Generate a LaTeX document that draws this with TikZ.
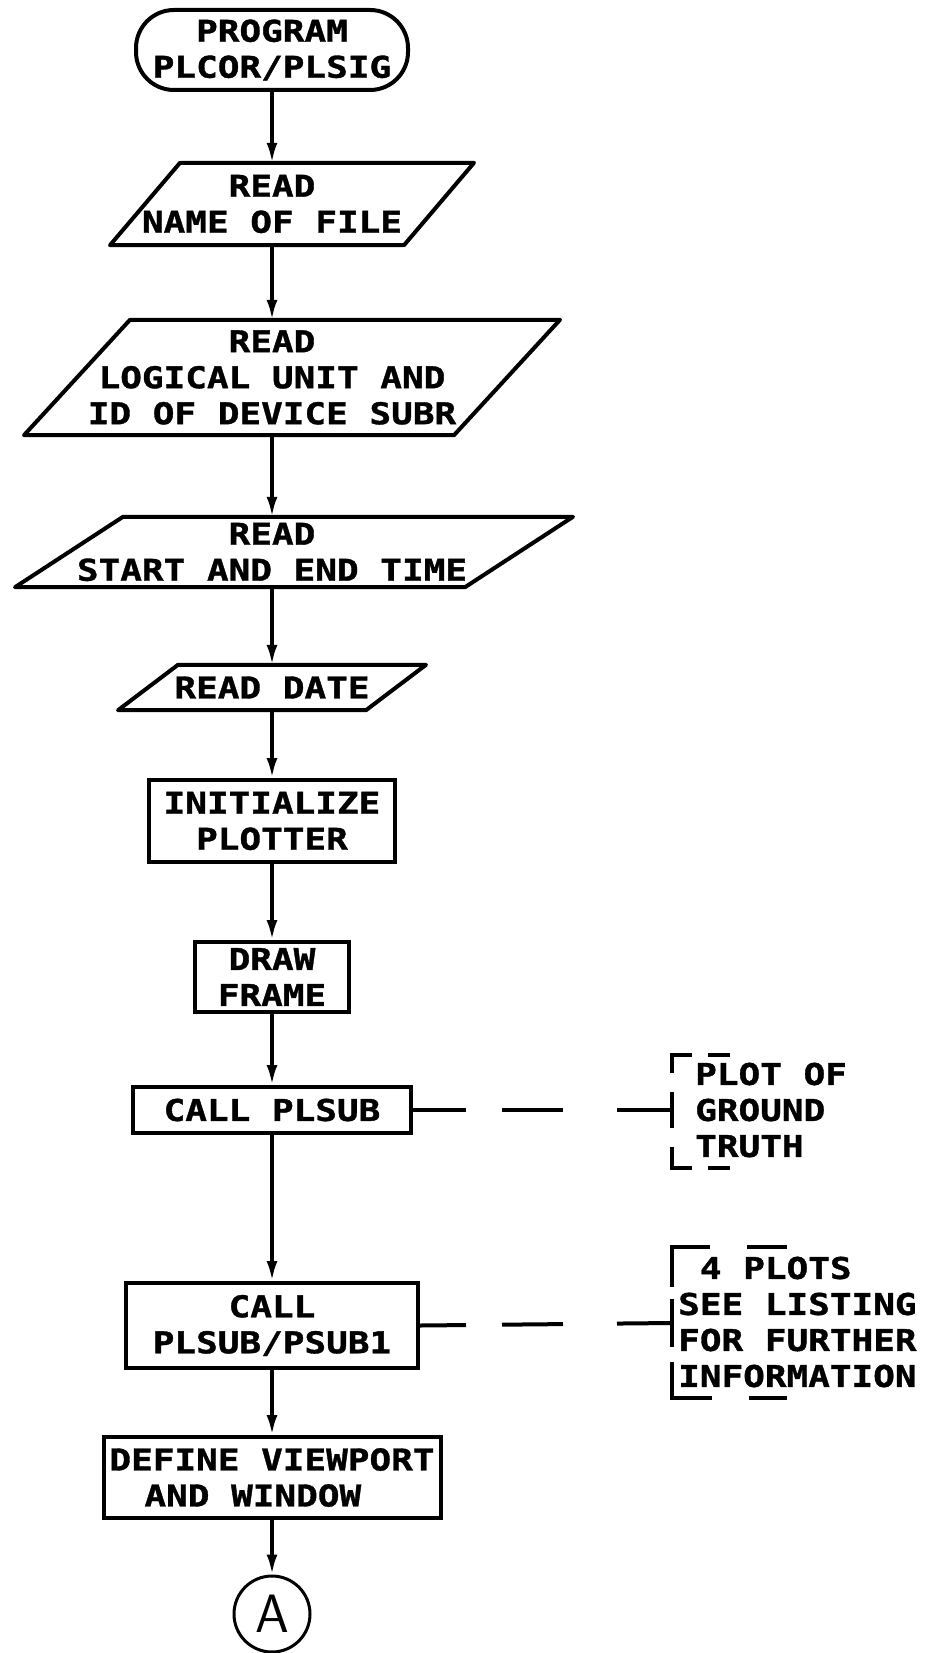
\documentclass[tikz,border=0pt]{standalone}
\usepackage{fontspec}
\usepackage{tikz}
\usetikzlibrary{arrows.meta, shapes}
\newfontfamily\plotfont{DejaVu Sans Mono}[FakeStretch=1.2, FakeBold=1.2]

\tikzset{
        plottext/.style={font=\plotfont\bfseries\fontsize{30}{36}\selectfont, align=center, inner sep=0pt},
        termbox/.style={plottext, draw, line width=4pt, rounded corners=38pt},
        procbox/.style={plottext, draw, line width=4pt},
        iotext/.style={plottext},
        notetext/.style={plottext, align=left, anchor=west},
        outline/.style={line width=4pt, line join=round},
        flowarrow/.style={line width=3.5pt, -{Latex[length=20pt, width=11pt]}},
        notelink/.style={line width=4pt},
        notebracket/.style={line width=4pt}
}

% parallelogram round an iotext node: name, centre offset, half slant, half width
\newcommand{\ioshape}[4]{%
        \draw[outline] ([xshift={#2+#3-#4}]#1.north) -- ([xshift={#2+#3+#4}]#1.north)
            -- ([xshift={#2-#3+#4}]#1.south) -- ([xshift={#2-#3-#4}]#1.south) -- cycle;}

\begin{document}
\begin{tikzpicture}[x=1pt, y=-1pt]
        \useasboundingbox (0, 0) rectangle (924, 1653);

        \node[termbox, minimum width=272pt, minimum height=80pt] (start) at (272, 50) {PROGRAM\\PLCOR/PLSIG};

        \node[iotext, minimum height=82pt] (name) at (272, 204) {READ\\NAME OF FILE};
        \node[iotext, minimum height=115pt] (unit) at (272, 377.5) {READ\\LOGICAL UNIT AND\\ID OF DEVICE SUBR};
        \node[iotext, minimum height=70pt] (time) at (272, 552) {READ\\START AND END TIME};
        \node[iotext, minimum height=45pt] (date) at (272, 687.5) {READ DATE};
        \ioshape{name}{20}{35}{147}
        \ioshape{unit}{20}{53}{215}
        \ioshape{time}{22}{54}{225}
        \ioshape{date}{0}{30}{124}

        \node[procbox, minimum width=246pt, minimum height=82pt] (init) at (272, 821) {INITIALIZE\\PLOTTER};
        \node[procbox, minimum width=154pt, minimum height=70pt] (frame) at (272, 977) {DRAW\\FRAME};
        \node[procbox, minimum width=278pt, minimum height=46pt] (plsub) at (272, 1110) {CALL PLSUB};
        \node[procbox, minimum width=292pt, minimum height=85pt] (psub) at (272, 1325.5) {CALL\\PLSUB/PSUB1};
        \node[procbox, minimum width=337pt, minimum height=81pt, align=left] (view) at (272, 1477.5) {DEFINE VIEWPORT\\\hspace*{35pt}AND WINDOW};
        \node[draw, circle, line width=3pt, minimum size=76pt, inner sep=0pt,
            font=\sffamily\fontsize{54}{54}\selectfont] (conA) at (272, 1614) {A};

        \foreach \a/\b in {start/name, name/unit, unit/time, time/date, date/init,
            init/frame, frame/plsub, plsub/psub, psub/view, view/conA} {
            \draw[flowarrow] (\a) -- (\b);
        }

        \node[notetext] (truth) at (695, 1110) {PLOT OF\\GROUND\\TRUTH};
        \node[notetext] (listing) at (678, 1322) {~4 PLOTS\\SEE LISTING\\FOR FURTHER\\INFORMATION};

        \coordinate (truthbr) at (672, 1110);
        \coordinate (listbr) at (672, 1323);

        \draw[notebracket, dash pattern=on 22pt off 16pt on 38pt off 19pt on 36pt off 19pt on 41pt off 16pt on 22pt off 60pt]
            (730, 1055) -- (672, 1055) -- (672, 1168) -- (730, 1168);
        \draw[notebracket, dash pattern=on 40pt off 37pt on 78pt off 12pt on 48pt off 15pt on 76pt off 37pt on 40pt off 60pt]
            (787, 1247) -- (672, 1247) -- (672, 1398) -- (787, 1398);

        \draw[notelink, dash pattern=on 53pt off 36pt on 61pt off 54pt on 60pt off 60pt] (plsub.east) -- (truthbr);
        \draw[notelink, dash pattern=on 46pt off 36pt on 61pt off 54pt on 60pt off 60pt] (psub.east) -- (listbr);
    \end{tikzpicture}
\end{document}
